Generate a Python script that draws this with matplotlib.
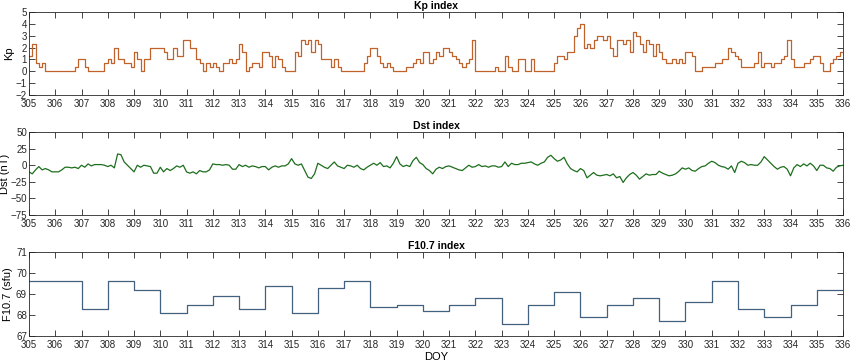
import numpy as np
import matplotlib
matplotlib.use("Agg")
import matplotlib.pyplot as plt

plt.rcParams['font.family'] = ['Liberation Sans', 'DejaVu Sans']

DAY_START = 305
DAY_END = 336

# Kp, 3-hourly (8 values per day), DOY 305..335
kp = [
    1.33, 2.33, 0.67, 0.33, 0.67, 0, 0, 0,          # 305
    0, 0, 0, 0, 0, 0, 0.33, 1,                      # 306
    1, 0.33, 0, 0, 0, 0, 0, 0.67,                   # 307
    1, 0.67, 2, 1, 1, 0.67, 0.67, 0.33,             # 308
    1.67, 1, 0, 1, 1, 2, 2, 2,                      # 309
    2, 1.67, 1, 1, 2, 1.33, 1.33, 2.67,             # 310
    2.67, 2, 2, 1, 0.67, 0, 0.67, 0.33,             # 311
    0.67, 0.33, 0, 0.67, 0.67, 1, 0.67, 1,          # 312
    2.33, 1.67, 0, 0.33, 0.67, 0.67, 0.33, 1.67,    # 313
    1.67, 1.33, 0.33, 1.33, 1, 0.33, 0, 0,          # 314
    0, 1.67, 1.33, 2.67, 2.33, 2.67, 1.67, 2.67,    # 315
    2.33, 1, 1, 1, 0.33, 1, 0.33, 0,                # 316
    0, 0, 0, 0, 0, 0, 0.67, 1.33,                   # 317
    2, 2, 1.33, 0.67, 0.33, 0.67, 0.33, 0,          # 318
    0, 0, 0, 0.33, 0.33, 0.67, 1, 0.67,             # 319
    1.67, 1.67, 0.67, 1, 1.67, 1.33, 2, 2,          # 320
    1.67, 1.33, 1, 0.67, 0.33, 0.67, 1, 2.67,       # 321
    0, 0, 0, 0, 0, 0, 0.33, 0,                      # 322
    0, 1.33, 0.33, 0, 0, 1, 1, 0,                   # 323
    0, 1, 0, 0, 0, 0, 0, 0,                         # 324
    0.67, 1.33, 1.33, 1, 1.67, 1.67, 3, 3.67,       # 325
    4, 2, 2.33, 2, 2.67, 3, 3, 2.67,                # 326
    3, 2, 1.33, 2.67, 2.67, 2.33, 2.67, 1.67,       # 327
    3.33, 3, 2.33, 1.67, 2.67, 2.33, 1.33, 2.33,    # 328
    1.67, 1, 0.67, 0.67, 1, 0.67, 1, 0.67,          # 329
    1.67, 1.67, 1.33, 0, 0, 0.33, 0.33, 0.33,       # 330
    0.33, 0.67, 0.67, 1, 1, 2, 1.67, 1.33,          # 331
    1, 0.33, 0.33, 0.33, 0.33, 0.67, 1.67, 0.33,    # 332
    0.67, 0.67, 0.33, 0.67, 0.67, 1, 1.33, 2.67,    # 333
    1, 0.33, 0.33, 0.33, 0.67, 0.67, 1, 1.33,       # 334
    1.33, 0.67, 0, 0, 0.67, 1, 1.33, 1.67,          # 335
]

# Dst (nT), sampled every 3 hours, DOY 305.0 .. 336.0
dst = [
    -10, -13, -7, -2, -7, -5, -7, -10,      # 305
    -10, -10, -7, -3, -3, -4, -3, -5,       # 306
    0, -3, 2, -1, 1, 1, 1, 0,               # 307
    -2, 0, -4, 17, 16, 5, 0, -5,            # 308
    -10, 0, -3, 0, -1, -2, -12, -12,        # 309
    -3, -10, -5, -8, -5, -1, -3, 0,         # 310
    -10, -12, -10, -13, -8, -10, -10, -7,   # 311
    2, 1, 1, 0, 1, 0, -6, -6,               # 312
    1, -2, 0, -3, -1, -2, -4, -2,           # 313
    -2, -7, -3, -1, -3, -1, -1, 2,          # 314
    10, 2, 0, 2, -8, -18, -20, -13,         # 315
    3, 0, -3, -5, 0, 5, -1, -3,             # 316
    -5, 0, -1, -3, 0, -5, -7, -3,           # 317
    0, 3, 0, 4, -2, -1, -4, 3,              # 318
    13, 2, -2, 0, -2, 7, 12, 4,             # 319
    1, -5, -8, -13, -6, -3, -5, -2,         # 320
    -1, -3, -5, -7, -8, -4, 0, -3,          # 321
    -2, 1, -2, -1, -3, -1, -1, -3,          # 322
    -2, 5, -2, 3, 1, 1, 3, 3,               # 323
    4, 5, 2, 0, 3, 5, 12, 15,               # 324
    10, 6, 8, 12, 2, -5, -8, -10,           # 325
    -5, -8, -19, -15, -11, -15, -16, -15,   # 326
    -14, -16, -13, -19, -17, -26, -19, -14, # 327
    -11, -15, -21, -17, -13, -15, -14, -14, # 328
    -9, -12, -14, -16, -15, -13, -9, -4,    # 329
    -6, -4, -8, -9, -5, -2, -1, 3,          # 330
    6, 4, 0, -2, -3, -6, -1, -11,           # 331
    3, 6, 4, 0, 1, 0, 0, 5,                 # 332
    13, 8, 3, -2, -6, -3, -2, -6,           # 333
    -16, -4, 1, -2, 2, -1, 3, -1,           # 334
    -8, 0, 0, -4, -5, -9, -3, -1,           # 335
    0,                                      # 336.0
]

# F10.7 (sfu), daily values, DOY 305..335
f107 = [69.6, 69.6, 68.3, 69.6, 69.2, 68.1, 68.5, 68.9, 68.3, 69.4,
        68.1, 69.3, 69.6, 68.4, 68.5, 68.2, 68.5, 68.8, 67.6, 68.5,
        69.1, 67.9, 68.5, 68.8, 67.7, 68.6, 69.6, 68.3, 67.9, 68.5, 69.2]

days = np.arange(DAY_START, DAY_END + 1)

t_kp = DAY_START + np.arange(len(kp) + 1) / 8.0
kp_y = kp + [kp[-1]]
t_dst = DAY_START + np.arange(len(dst)) / 8.0
t_f = np.arange(DAY_START, DAY_START + len(f107) + 1)
f_y = f107 + [f107[-1]]

fig = plt.figure(figsize=(8.5, 3.63), dpi=100)
left, width = 0.0341, 0.9577
ax1 = fig.add_axes([left, 0.738, width, 0.229])
ax2 = fig.add_axes([left, 0.408, width, 0.228])
ax3 = fig.add_axes([left, 0.074, width, 0.232])

ax1.plot(t_kp, kp_y, drawstyle='steps-post', color='#c0622c', lw=0.9)
ax1.set_ylim(-2, 5)
ax1.set_yticks(range(-2, 6))
ax1.set_ylabel('Kp', fontsize=8, labelpad=1)
ax1.set_title('Kp index', fontsize=7.5, fontweight='bold', pad=2)

ax2.plot(t_dst, dst, color='#1d6e1d', lw=0.9)
ax2.set_ylim(-75, 50)
ax2.set_yticks(range(-75, 51, 25))
ax2.set_ylabel('Dst (nT)', fontsize=8, labelpad=0)
ax2.set_title('Dst index', fontsize=7.5, fontweight='bold', pad=2)

ax3.plot(t_f, f_y, drawstyle='steps-post', color='#42607f', lw=0.9)
ax3.set_ylim(67, 71)
ax3.set_yticks(range(67, 72))
ax3.set_ylabel('F10.7 (sfu)', fontsize=8, labelpad=2)
ax3.set_title('F10.7 index', fontsize=7.5, fontweight='bold', pad=2)
ax3.set_xlabel('DOY', fontsize=8, labelpad=1)

for ax in (ax1, ax2, ax3):
    ax.set_xlim(DAY_START, DAY_END)
    ax.set_xticks(days)
    ax.tick_params(direction='in', top=True, right=True, length=4, width=0.6,
                   labelsize=7, colors='#262626', pad=1.5)
    ax.tick_params(axis='x', pad=3)
    for s in ax.spines.values():
        s.set_color('#262626')
        s.set_linewidth(0.6)

fig.savefig('out.png', dpi=100)
